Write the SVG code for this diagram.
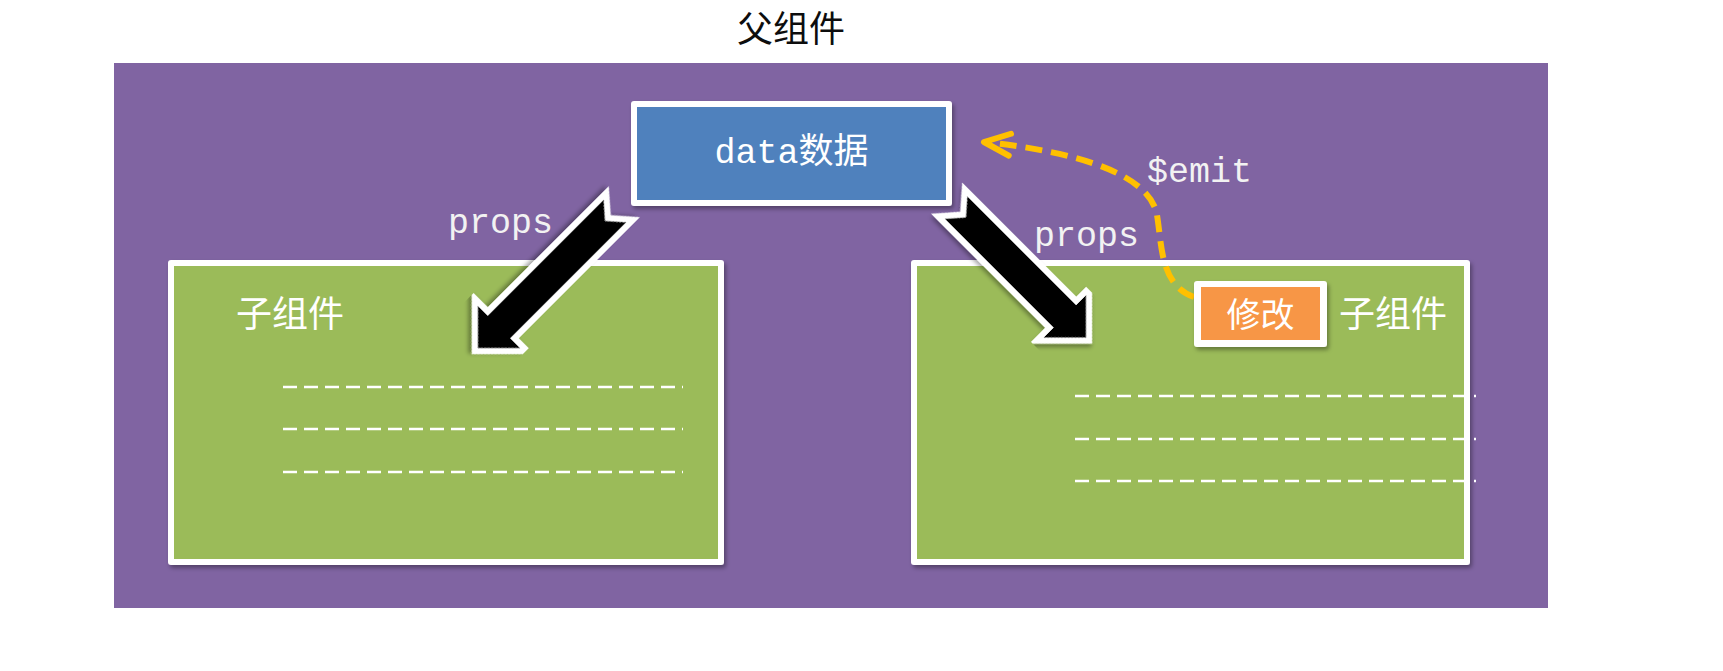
<svg xmlns="http://www.w3.org/2000/svg" width="1723" height="671" viewBox="0 0 1723 671">
<defs>
<filter id="sh" x="-10%" y="-10%" width="130%" height="130%"><feDropShadow dx="2" dy="3" stdDeviation="2" flood-color="#000" flood-opacity="0.35"/></filter>
<marker id="ah" markerUnits="userSpaceOnUse" markerWidth="50" markerHeight="50" viewBox="-40 -25 50 50" refX="0" refY="0" orient="auto"><path d="M-26,-11 L0,0 L-26,11" fill="none" stroke="#FFC000" stroke-width="6" stroke-linecap="round" stroke-linejoin="round"/></marker>
</defs>
<style>
.cjk{font-family:"Noto Sans CJK SC","Noto Sans",sans-serif}
.mono{font-family:"Liberation Mono","DejaVu Sans Mono",monospace}
.lbl{fill:#f2f2f2;font-size:35px}
.wt{fill:#fff}
.frame{fill:#fff;filter:url(#sh)}
.dash{stroke:#fff;stroke-width:2.5;stroke-dasharray:14 7;fill:none}
.blk{fill:#000;stroke:#fff;stroke-width:12;stroke-linejoin:miter;stroke-miterlimit:10;paint-order:stroke;filter:url(#sh)}
.emit{fill:none;stroke:#FFC000;stroke-width:6;stroke-dasharray:17 9}
</style>
<rect width="1723" height="671" fill="#fff"/>
<g id="parent">
<text class="cjk" x="791" y="42" font-size="36" text-anchor="middle" fill="#0d0d0d">父组件</text>
<rect x="114" y="63" width="1434" height="545" fill="#8064A2"/>
</g>
<g id="child-left">
<rect class="frame" x="168" y="260" width="556" height="305" rx="3"/>
<rect x="174" y="266" width="544" height="293" fill="#9BBB59"/>
<text class="cjk wt" x="236" y="327" font-size="36">子组件</text>
<path class="dash" d="M283,387H683M283,429H683M283,472H683"/>
</g>
<g id="child-right">
<rect class="frame" x="911" y="260" width="559" height="305" rx="3"/>
<rect x="917" y="266" width="547" height="293" fill="#9BBB59"/>
<text class="cjk wt" x="1339" y="327" font-size="36">子组件</text>
<path class="dash" d="M1075,396H1476M1075,439H1476M1075,481H1476"/>
</g>
<g id="data">
<rect class="frame" x="631" y="101" width="321" height="105" rx="3"/>
<rect x="637" y="107" width="309" height="93" fill="#4F81BD"/>
<text x="791.5" y="163" text-anchor="middle" class="wt" font-size="35"><tspan class="mono">data</tspan><tspan class="cjk">数据</tspan></text>
</g>
<g id="connectors">
<polygon class="blk" transform="translate(615,211) rotate(135)" points="0,-16 164,-16 164,-30 194,0 164,30 164,16 0,16 14,0"/>
<polygon class="blk" transform="translate(956,207.5) rotate(45)" points="0,-16 154,-16 154,-30 184,0 154,30 154,16 0,16 14,0"/>
<path class="emit" d="M1194,297 C1160,285 1162,245 1157,215 C1150,175 1080,152 984,142" marker-end="url(#ah)"/>
<text class="mono lbl" x="448" y="233">props</text>
<text class="mono lbl" x="1034" y="246">props</text>
<text class="mono lbl" x="1147" y="182">$emit</text>
</g>
<g id="modify">
<rect class="frame" x="1194" y="281" width="133" height="66" rx="3"/>
<rect x="1201" y="287" width="119" height="53" fill="#F79646"/>
<text class="cjk wt" x="1260.5" y="327" font-size="34" text-anchor="middle">修改</text>
</g>
</svg>
